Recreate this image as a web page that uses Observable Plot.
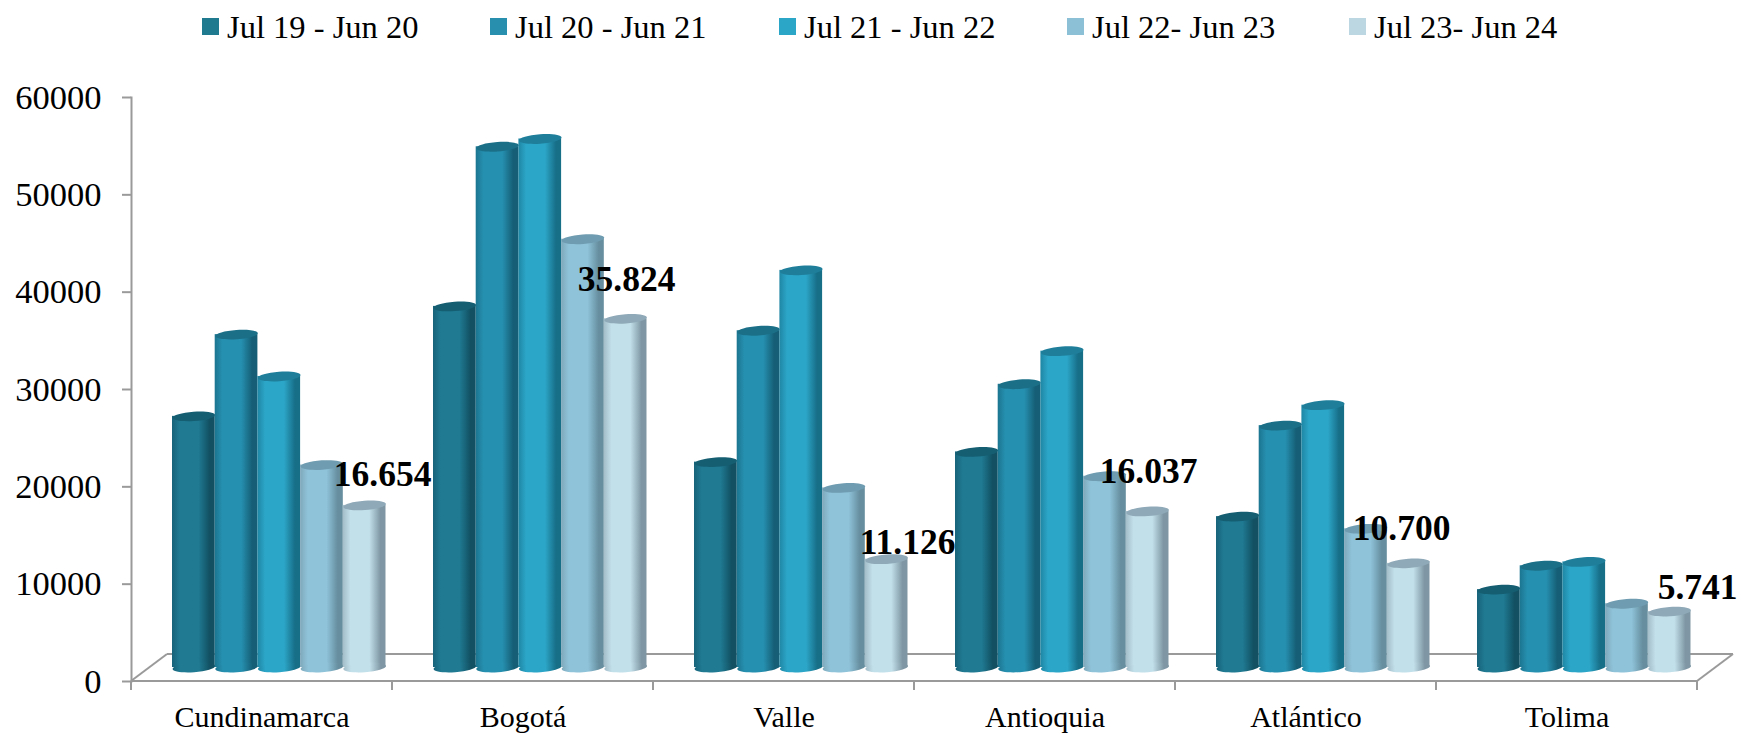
<!DOCTYPE html>
<html><head><meta charset="utf-8">
<script src="https://cdn.jsdelivr.net/npm/d3@7"></script>
<script src="https://cdn.jsdelivr.net/npm/@observablehq/plot@0.6"></script>
<style>
html,body{margin:0;padding:0;background:#fff;overflow:hidden;width:1742px;height:734px}
#legend{position:relative;height:60px;font-family:"Liberation Serif",serif;font-size:32.5px;color:#000}
#legend .k{position:absolute;top:18px;width:17.3px;height:17px}
#legend .t{position:absolute;top:7px;white-space:nowrap;line-height:40px}
svg{display:block;max-width:none!important}
</style></head><body>
<div id="legend"></div><div id="chart"></div>
<script>
const categories = ["Cundinamarca","Bogotá","Valle","Antioquia","Atlántico","Tolima"];
const seriesNames = ["Jul 19 - Jun 20","Jul 20 - Jun 21","Jul 21 - Jun 22","Jul 22- Jun 23","Jul 23- Jun 24"];
const jul19 = [25800,37100,21100,22150,15500,8000];
const jul20 = [34200,53500,34600,29100,24850,10450];
const jul21 = [29900,54300,40800,32500,26950,10850];
const jul22 = [20800,44000,18450,19650,14250,6550];
const jul23 = [16654,35824,11126,16037,10700,5741];
const seriesValues = [jul19,jul20,jul21,jul22,jul23];
const yTicks = [0,10000,20000,30000,40000,50000,60000];

const mid  = ["#1f7a92","#2690b0","#2ca6c8","#8fc3d9","#c2e0ea"];
const edgeL= ["#17637a","#1c7590","#1f86a4","#7fa8ba","#a3bcc8"];
const edgeR= ["#125062","#155e75","#176e87","#668e9f","#7f97a4"];
const lids = ["#155e72","#1b7088","#1f7f9b","#6f9cb0","#8fa9b8"];
const legendSwatches = ["#1f7a90","#2890ae","#2ca6c6","#8cc0d6","#bcd6e2"];

const fmt = d3.formatLocale({decimal:",",thousands:".",grouping:[3],currency:["",""]}).format(",");

// ---- legend (HTML, above the SVG)
const lg = document.getElementById("legend");
const lx = [202,490,779,1067,1349];
seriesNames.forEach((s,i)=>{
  const k=document.createElement("div");k.className="k";k.style.left=lx[i]+"px";k.style.background=legendSwatches[i];lg.appendChild(k);
  const t=document.createElement("div");t.className="t";t.style.left=(lx[i]+25)+"px";t.textContent=s;lg.appendChild(t);
});

// ---- 3D-look constants
const barW = 42.7, lead = 41, band = 261, lift = 14;
const depthX = 36, depthY = 27;
const ryRatio = 0.22, tilt = -4*Math.PI/180;

const ellipse = {
  draw(ctx,size){
    const rx=Math.sqrt(size/Math.PI), ry=rx*ryRatio, K=0.5523;
    const c=Math.cos(tilt), s=Math.sin(tilt);
    const p=(x,y)=>[x*c-y*s, x*s+y*c];
    const pts=[[rx,0],[rx,K*ry],[K*rx,ry],[0,ry],[-K*rx,ry],[-rx,K*ry],[-rx,0],[-rx,-K*ry],[-K*rx,-ry],[0,-ry],[K*rx,-ry],[rx,-K*ry],[rx,0]].map(q=>p(q[0],q[1]));
    ctx.moveTo(...pts[0]);
    for(let j=1;j<pts.length;j+=3) ctx.bezierCurveTo(...pts[j],...pts[j+1],...pts[j+2]);
    ctx.closePath();
  }
};

const defsMark = () => {
  const ns="http://www.w3.org/2000/svg";
  const defs=document.createElementNS(ns,"defs");
  mid.forEach((m,i)=>{
    const g=document.createElementNS(ns,"linearGradient");
    g.setAttribute("id","cyl"+i);
    [[0,edgeL[i]],[0.18,m],[0.62,m],[0.88,edgeR[i]],[1,edgeR[i]]].forEach(([o,c])=>{
      const st=document.createElementNS(ns,"stop");st.setAttribute("offset",o);st.setAttribute("stop-color",c);g.appendChild(st);
    });
    defs.appendChild(g);
  });
  return defs;
};

const grey="#9a9a9a";
const floorMark = (index,scales,values,dim) => {
  const ns="http://www.w3.org/2000/svg";
  const g=document.createElementNS(ns,"g");
  const y0=scales.y(0), L=dim.marginLeft, R=dim.width-dim.marginRight;
  const line=(x1,y1,x2,y2)=>{
    const l=document.createElementNS(ns,"line");
    l.setAttribute("x1",x1);l.setAttribute("y1",y1);l.setAttribute("x2",x2);l.setAttribute("y2",y2);
    l.setAttribute("stroke",grey);l.setAttribute("stroke-width",2);g.appendChild(l);
  };
  line(L,y0,L+depthX,y0-depthY);
  line(L+depthX,y0-depthY,R+depthX,y0-depthY);
  line(R,y0,R+depthX,y0-depthY);
  line(L,y0,R,y0);
  categories.forEach(c=>line(scales.x(c),y0,scales.x(c),y0+9));
  line(R,y0,R,y0+9);
  return g;
};

const cylinder = (i) => {
  const data = categories.map((c,k)=>({category:c,value:seriesValues[i][k]}));
  const off = lead+barW*(i+0.5)-band/2;
  return [
    Plot.barY(data,{x:"category",y:"value",fill:`url(#cyl${i})`,dy:-lift,
      insetLeft:lead+barW*i,insetRight:band-lead-barW*(i+1)}),
    Plot.dot(data,{x:"category",y:()=>0,r:barW/2,symbol:ellipse,fill:`url(#cyl${i})`,stroke:"none",dx:off,dy:-lift}),
    Plot.dot(data,{x:"category",y:"value",r:barW/2,symbol:ellipse,fill:lids[i],stroke:"none",dx:off,dy:-lift})
  ];
};

const labelOff = lead+barW*4.5-band/2;
const label = (k,dx,dy) => Plot.text([{category:categories[k],value:jul23[k]}],{
  x:"category",y:"value",text:d=>fmt(d.value),dx:labelOff+dx,dy,
  fontFamily:"Liberation Serif",fontWeight:"bold",fontSize:35.5,fill:"#000",textAnchor:"middle"
});

const plot = Plot.plot({
  width:1742,height:674,
  marginLeft:131,marginRight:45,marginTop:37,marginBottom:53,
  style:{background:"#fff",fontFamily:"Liberation Serif",color:"#000"},
  x:{type:"band",domain:categories,padding:0,align:0,label:null},
  y:{domain:[0,60000],label:null},
  marks:[
    defsMark,
    floorMark,
    Plot.frame({anchor:"left",stroke:grey,strokeWidth:2}),
    Plot.axisY({ticks:yTicks,tickSize:9,tickPadding:21,stroke:grey,strokeWidth:2,fontSize:34.5,fill:"#000",label:null,tickFormat:d=>String(d)}),
    Plot.axisX({tickSize:0,tickPadding:24.5,fontSize:30,fill:"#000",label:null}),
    ...seriesNames.flatMap((_,i)=>cylinder(i)),
    label(0,18,-45),
    label(1,1,-53),
    label(2,21,-31),
    label(3,1,-54),
    label(4,-7,-49),
    label(5,28,-38)
  ]
});
document.getElementById("chart").appendChild(plot);
</script>
</body></html>
